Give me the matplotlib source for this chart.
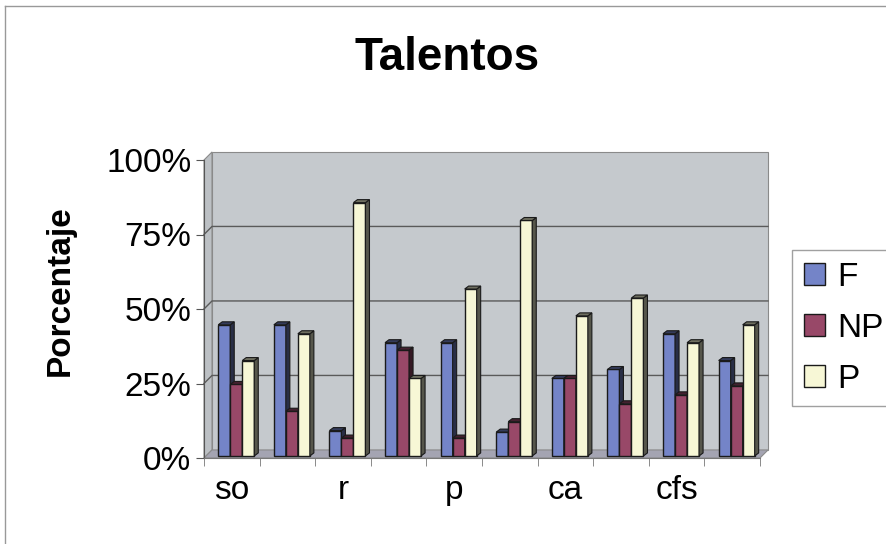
import numpy as np
import matplotlib
matplotlib.use("Agg")
import matplotlib.pyplot as plt
from matplotlib.patches import Polygon
from matplotlib.colors import to_rgb

plt.rcParams['font.family'] = ['Liberation Sans', 'DejaVu Sans']

categories = ["so", "", "r", "", "p", "", "ca", "", "cfs", ""]
f_vals = [44, 44, 8.5, 38, 38, 8, 26, 29, 41, 32]
np_vals = [24, 15, 6, 35.5, 6, 11.5, 26, 17.5, 20.5, 23.5]
p_vals = [32, 41, 85, 26, 56, 79, 47, 53, 38, 44]
series = [("F", f_vals, "#7484c8"), ("NP", np_vals, "#984868"), ("P", p_vals, "#f7f7d6")]
yticks = [0, 25, 50, 75, 100]
ytick_labels = ["0%", "25%", "50%", "75%", "100%"]

W, H = 886, 544
fig = plt.figure(figsize=(W / 100, H / 100), dpi=100)
ax = fig.add_axes([204 / W, (H - 458) / H, 556 / W, 298 / H])
ax.set_xlim(0, len(categories))
ax.set_ylim(0, 100)
ax.patch.set_visible(False)

# 3D-looking walls
dxw, dyw = 0.144, 2.7
n = len(categories)
wall = "#c5c9cd"
ax.add_patch(Polygon([(dxw, dyw), (n + dxw, dyw), (n + dxw, 100 + dyw), (dxw, 100 + dyw)],
                     closed=True, fc=wall, ec="#8a8a8a", lw=0.8, clip_on=False, zorder=0))
ax.add_patch(Polygon([(0, 0), (dxw, dyw), (dxw, 100 + dyw), (0, 100)],
                     closed=True, fc="#bcc0c4", ec="#8a8a8a", lw=0.8, clip_on=False, zorder=0))
ax.add_patch(Polygon([(0, 0), (n, 0), (n + dxw, dyw), (dxw, dyw)],
                     closed=True, fc="#a4a4b2", ec="#8a8a8a", lw=0.8, clip_on=False, zorder=0.5))
for v in yticks[1:-1]:
    ax.plot([0, dxw, n + dxw], [v, v + dyw, v + dyw], color="#5a5a5a", lw=1.0,
            clip_on=False, zorder=0.6)

# bars with side and top faces
bw, ddx, ddy = 0.216, 0.072, 1.0
xoff, ybot = 0.08, 0.7
centers = np.arange(n) + 0.5 + xoff


def darker(c, k):
    r, g, b = to_rgb(c)
    return (r * k, g * k, b * k)


for j, (name, vals, col) in enumerate(series):
    xs = centers + (j - 1) * bw
    ax.bar(xs, vals, width=bw, bottom=ybot, color=col, edgecolor="#1a1a1a",
           linewidth=1.0, label=name, zorder=2 + j)
    for x, v in zip(xs, vals):
        r = x + bw / 2
        l = x - bw / 2
        top = ybot + v
        ax.add_patch(Polygon([(r, ybot), (r + ddx, ybot + ddy), (r + ddx, top + ddy), (r, top)],
                             closed=True, fc=darker(col, 0.35), ec="#1a1a1a", lw=0.8,
                             zorder=2 + j, clip_on=False))
        ax.add_patch(Polygon([(l, top), (r, top), (r + ddx, top + ddy), (l + ddx, top + ddy)],
                             closed=True, fc=darker(col, 0.45), ec="#1a1a1a", lw=0.8,
                             zorder=2 + j, clip_on=False))

for s in ["top", "right"]:
    ax.spines[s].set_visible(False)
ax.spines["left"].set_color("#555555")
ax.spines["bottom"].set_color("#777777")

ax.set_yticks(yticks)
ax.set_yticklabels(ytick_labels, fontsize=24)
ax.tick_params(axis="y", direction="out", length=6, color="#555555", pad=3)
ax.set_xticks(np.arange(n) + 0.5)
ax.set_xticklabels(categories, fontsize=24)
ax.set_xticks(np.arange(n + 1), minor=True)
ax.tick_params(axis="x", which="major", length=0, pad=12)
ax.tick_params(axis="x", which="minor", direction="out", length=6, color="#777777")

fig.text(60 / W, 1 - 291 / H, "Porcentaje", fontsize=24, fontweight="bold",
         rotation=90, ha="center", va="center")
fig.text(447 / W, 1 - 58 / H, "Talentos", fontsize=33, fontweight="bold",
         ha="center", va="center")

leg = ax.legend(loc="upper left", bbox_to_anchor=(792 / W, 1 - 250 / H),
                bbox_transform=fig.transFigure, fontsize=24, frameon=True,
                fancybox=False, edgecolor="#888888", handlelength=0.64,
                handleheight=0.64, handletextpad=0.36, labelspacing=0.6,
                borderpad=0.35, borderaxespad=0)
for h in leg.legend_handles:
    h.set_edgecolor("#1a1a1a")

# chart border (top and left edges visible in the scan)
fig.add_artist(plt.Line2D([5 / W, 5 / W], [0, 1 - 6 / H], color="#999999", lw=1))
fig.add_artist(plt.Line2D([5 / W, 1], [1 - 6 / H, 1 - 6 / H], color="#999999", lw=1))

fig.savefig("out.png", dpi=100, facecolor="white")
